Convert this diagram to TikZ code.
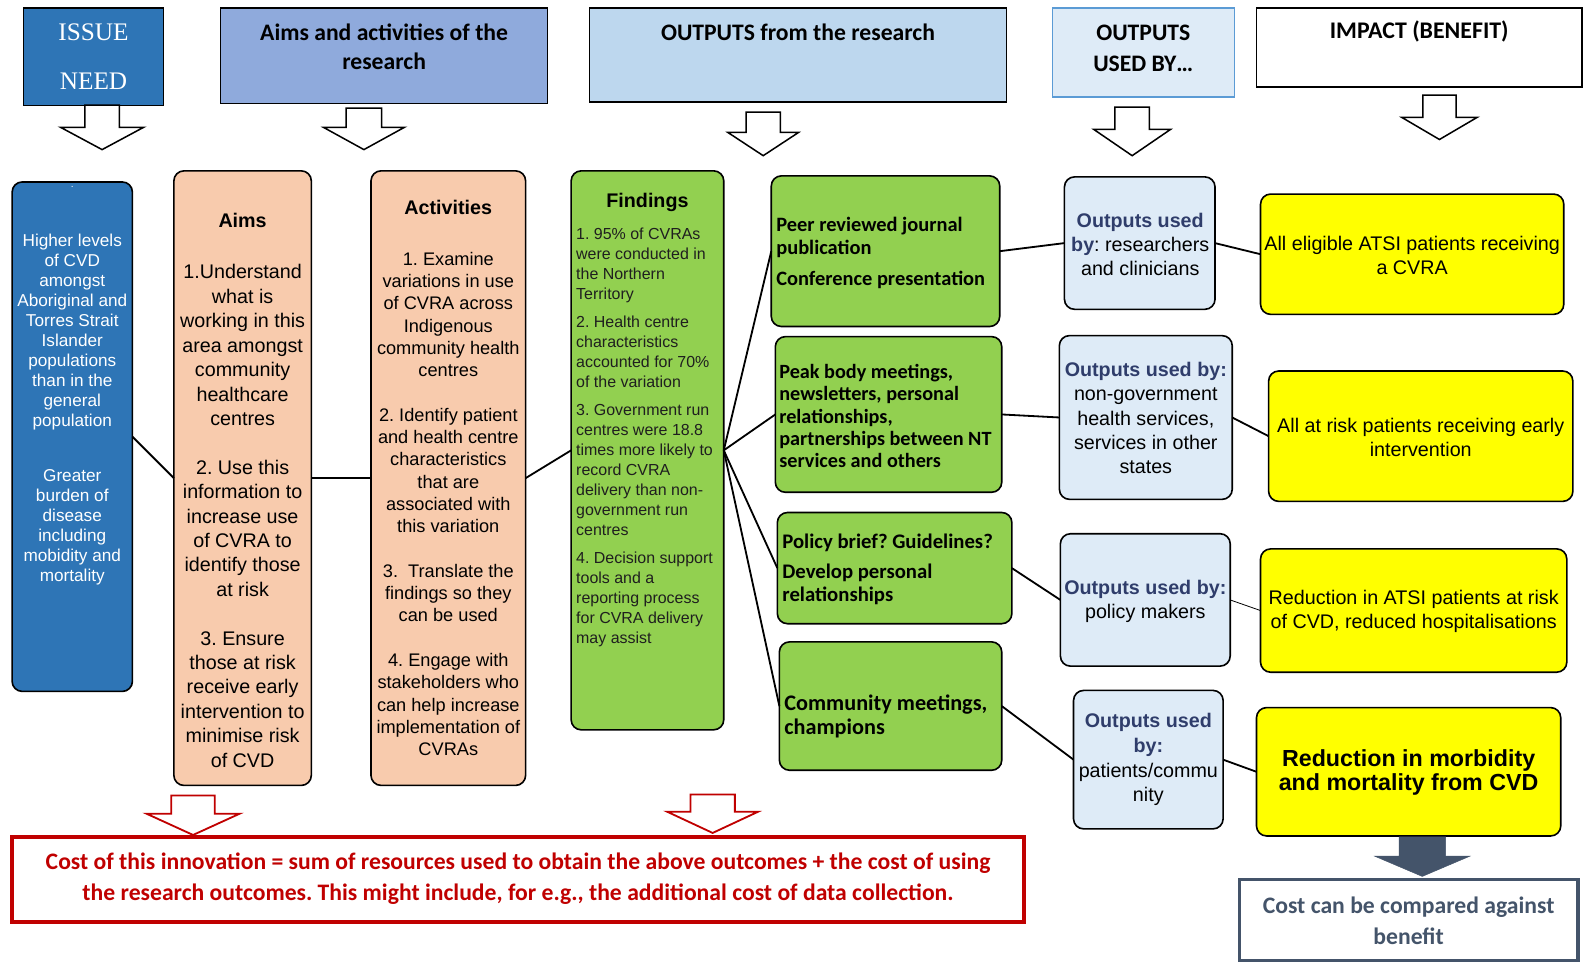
\documentclass[tikz,border=0pt]{standalone}
\usepackage{fontspec}
\setmainfont{Liberation Sans}
\newfontfamily\carl{Carlito}
\newfontfamily\tnr{Liberation Serif}
\frenchspacing
\definecolor{issueblue}{HTML}{2E75B6}
\definecolor{aimshdr}{HTML}{8FAADC}
\definecolor{outhdr}{HTML}{BDD7EE}
\definecolor{usedfill}{HTML}{DEEBF7}
\definecolor{usedborder}{HTML}{5B9BD5}
\definecolor{peach}{HTML}{F8CBAD}
\definecolor{grn}{HTML}{92D050}
\definecolor{yel}{HTML}{FFFF00}
\definecolor{slate}{HTML}{44546A}
\definecolor{dred}{HTML}{C00000}
\definecolor{navy}{HTML}{2F3D6B}
\newcommand\fs[2]{\fontsize{#1}{#2}\selectfont}
\newcommand\blockarr[7]{\draw[#7] (#1-#3,#2) -- (#1+#3,#2) -- (#1+#3,#4) -- (#1+#5,#4) -- (#1,#6) -- (#1-#5,#4) -- (#1-#3,#4) -- cycle;}
\newcommand\ub[1]{{\bfseries\color{navy}#1}}
\tikzset{
  every node/.style={inner sep=0pt, outer sep=0pt},
  rbox/.style={draw=black, line width=1.6pt, rounded corners=10pt},
  hdr/.style={draw=black, line width=1.2pt},
  conn/.style={draw=black, line width=1.8pt},
  hollow/.style={draw=black, fill=white, line width=1.5pt, line join=miter},
  redarr/.style={draw=dred, fill=white, line width=1.8pt, line join=miter},
  darkarr/.style={draw=slate, fill=slate, line width=0.5pt},
  txt/.style={align=center},
}
\begin{document}
\begin{tikzpicture}[x=1pt,y=-1pt]
\useasboundingbox (0,0) rectangle (1568,953);
\fill[white] (0,0) rectangle (1568,953);

% ---------- headers ----------
\node[hdr, fill=issueblue, minimum width=139pt, minimum height=96pt] (issueh) at (92.5,56) {};
\node[txt, text=white, font=\tnr\fs{25}{48}] (issueht) at (92.5,56) {ISSUE\\NEED};
\node[hdr, fill=aimshdr, minimum width=324pt, minimum height=94pt] (aimsh) at (380,55) {};
\node[txt, font=\carl\bfseries\fs{23.4}{29}] (aimsht) at (380,46.5) {Aims and activities of the\\research};
\node[hdr, fill=outhdr, minimum width=413pt, minimum height=93pt] (outh) at (789.5,54.5) {};
\node[txt, font=\carl\bfseries\fs{23.4}{29}] (outht) at (789.5,31.5) {OUTPUTS from the research};
\node[draw=usedborder, line width=1.2pt, fill=usedfill, minimum width=180pt, minimum height=88pt] (usedh) at (1131,52) {};
\node[txt, font=\carl\bfseries\fs{23.4}{31}] (usedht) at (1131,47.5) {OUTPUTS\\USED BY…};
\node[hdr, fill=white, minimum width=322pt, minimum height=78pt] (imph) at (1404,47) {};
\node[txt, font=\carl\bfseries\fs{23.6}{29}] (impht) at (1404,31.5) {IMPACT (BENEFIT)};

% header arrows
\blockarr{101}{104}{17}{126}{41}{148}{hollow}
\blockarr{360}{107}{17.5}{126}{40}{148}{hollow}
\blockarr{755}{111}{17}{131}{35}{154}{hollow}
\blockarr{1120}{106}{17}{128}{38}{154}{hollow}
\blockarr{1424}{94}{16.5}{116}{37.5}{138}{hollow}

% ---------- column 1: issue ----------
\node[rbox, fill=issueblue, minimum width=119pt, minimum height=504pt] (issue) at (71.5,432) {};
\node[text=white, font=\fs{10}{12}] (issuedot) at (71.5,185) {.};
\node[txt, text=white, font=\fs{17}{19.8}] (issuet) at (71.5,405) {Higher levels\\of CVD\\amongst\\Aboriginal and\\Torres Strait\\Islander\\populations\\than in the\\general\\population\\[34pt]Greater\\burden of\\disease\\including\\mobidity and\\mortality};

% ---------- aims ----------
\node[rbox, fill=peach, minimum width=136pt, minimum height=608pt] (aims) at (240,473) {};
\node[font=\bfseries\fs{19.5}{24}] (aimstitle) at (240,218) {Aims};
\node[txt, font=\fs{19.5}{24.15}] (aimst) at (240,510.5) {1.Understand\\what is\\working in this\\area amongst\\community\\healthcare\\centres\\[24.15pt]2. Use this\\information to\\increase use\\of CVRA to\\identify those\\at risk\\[24.15pt]3. Ensure\\those at risk\\receive early\\intervention to\\minimise risk\\of CVD};

% ---------- activities ----------
\node[rbox, fill=peach, minimum width=153pt, minimum height=608pt] (act) at (443.5,473) {};
\node[font=\bfseries\fs{19.5}{24}] (acttitle) at (443.5,205) {Activities};
\node[txt, font=\fs{18}{22.05}] (actt) at (443.5,498.5) {1. Examine\\variations in use\\of CVRA across\\Indigenous\\community health\\centres\\[22.05pt]2. Identify patient\\and health centre\\characteristics\\that are\\associated with\\this variation\\[22.05pt]3.~ Translate the\\findings so they\\can be used\\[22.05pt]4. Engage with\\stakeholders who\\can help increase\\implementation of\\CVRAs};

% ---------- findings ----------
\node[rbox, fill=grn, minimum width=151pt, minimum height=553pt] (find) at (640.5,445.5) {};
\node[font=\bfseries\fs{19.5}{24}] (findtitle) at (640.5,200) {Findings};
\node[align=left, anchor=west, text=black!88, font=\fs{15.8}{19.7}] (findt) at (570,432.5) {1. 95\% of CVRAs\\were conducted in\\the Northern\\Territory\\[8.3pt]2. Health centre\\characteristics\\accounted for 70\%\\of the variation\\[8.3pt]3. Government run\\centres were 18.8\\times more likely to\\record CVRA\\delivery than non-\\government run\\centres\\[8.3pt]4. Decision support\\tools and a\\reporting process\\for CVRA delivery\\may assist};

% ---------- output boxes ----------
\node[rbox, fill=grn, minimum width=226pt, minimum height=149pt] (oa) at (876,248.5) {};
\node[align=left, anchor=west, font=\carl\bfseries\fs{20.2}{22}] (oat) at (768,250.5) {Peer reviewed journal\\publication\\[9pt]Conference presentation};
\node[rbox, fill=grn, minimum width=224pt, minimum height=154pt] (ob) at (879,410) {};
\node[align=left, anchor=west, font=\carl\bfseries\fs{20}{22.2}] (obt) at (771,411.5) {Peak body meetings,\\newsletters, personal\\relationships,\\partnerships between NT\\services and others};
\node[rbox, fill=grn, minimum width=232pt, minimum height=110pt] (oc) at (885,562) {};
\node[align=left, anchor=west, font=\carl\bfseries\fs{20.5}{22}] (oct) at (774,563) {Policy brief? Guidelines?\\[8pt]Develop personal\\relationships};
\node[rbox, fill=grn, minimum width=220pt, minimum height=127pt] (od) at (881,698.5) {};
\node[align=left, anchor=west, font=\carl\bfseries\fs{22}{24}] (odt) at (776,709) {Community meetings,\\champions};

% ---------- used-by boxes ----------
\node[rbox, fill=usedfill, minimum width=149pt, minimum height=131pt] (ua) at (1127.5,240.5) {};
\node[txt, font=\fs{19.5}{24}] (uat) at (1128,242) {\ub{Outputs used}\\\ub{by}: researchers\\and clinicians};
\node[rbox, fill=usedfill, minimum width=171pt, minimum height=162pt] (ubx) at (1133.5,413) {};
\node[txt, font=\fs{19.5}{24.2}] (ubt) at (1133.5,413.5) {\ub{Outputs used by:}\\non-government\\health services,\\services in other\\states};
\node[rbox, fill=usedfill, minimum width=168pt, minimum height=131pt] (uc) at (1133,593.5) {};
\node[txt, font=\fs{19.5}{24}] (uct) at (1133,595) {\ub{Outputs used by:}\\policy makers};
\node[rbox, fill=usedfill, minimum width=148pt, minimum height=137pt] (ud) at (1136,751.5) {};
\node[txt, font=\fs{19.5}{24.3}] (udt) at (1136,751.5) {\ub{Outputs used}\\\ub{by:}\\patients/commu\\nity};

% ---------- impact boxes ----------
\node[rbox, fill=yel, minimum width=300pt, minimum height=119pt] (ya) at (1397,251.5) {};
\node[txt, font=\fs{19.5}{24}] (yat) at (1397,253) {All eligible ATSI patients receiving\\a CVRA};
\node[rbox, fill=yel, minimum width=301pt, minimum height=129pt] (yb) at (1405.5,431.5) {};
\node[txt, font=\fs{19.5}{24}] (ybt) at (1405.5,433) {All at risk patients receiving early\\intervention};
\node[rbox, fill=yel, minimum width=303pt, minimum height=122pt] (yc) at (1398.5,604) {};
\node[txt, font=\fs{19.5}{24}] (yct) at (1398.5,605) {Reduction in ATSI patients at risk\\of CVD, reduced hospitalisations};
\node[rbox, fill=yel, minimum width=301pt, minimum height=127pt] (yd) at (1393.5,763.5) {};
\node[txt, font=\bfseries\fs{23}{24}] (ydt) at (1393.5,764.5) {Reduction in morbidity\\and mortality from CVD};

% ---------- connectors ----------
\draw[conn] (issue.east) -- (aims.west);
\draw[conn] (aims.east) -- (act.west);
\draw[conn] (act.east) -- (find.west);
\draw[conn] (find.east) -- (oa.west);
\draw[conn] (find.east) -- (ob.west);
\draw[conn] (find.east) -- (oc.west);
\draw[conn] (find.east) -- (od.west);
\draw[conn] (oa.east) -- (ua.west);
\draw[conn] (ob.east) -- (ubx.west);
\draw[conn] (oc.east) -- (uc.west);
\draw[conn] (od.east) -- (ud.west);
\draw[conn] (ua.east) -- (ya.west);
\draw[conn] (ubx.east) -- (yb.west);
\draw[draw=black, line width=0.8pt] (uc.east) -- (yc.west);
\draw[conn] (ud.east) -- (yd.west);

% ---------- bottom ----------
\blockarr{191}{787}{21.5}{805}{46}{826}{redarr}
\blockarr{705}{786}{22}{803}{45}{824}{redarr}
\node[draw=dred, line width=3.5pt, fill=white, minimum width=1001pt, minimum height=84pt] (costbox) at (512.5,870) {};
\node[txt, text=dred, font=\carl\bfseries\fs{23.4}{31}] (costt) at (512.5,869.5) {Cost of this innovation = sum of resources used to obtain the above outcomes + the cost of using\\the research outcomes. This might include, for e.g., the additional cost of data collection.};

\blockarr{1407}{828}{23}{847}{47}{867}{darkarr}
\node[draw=slate, line width=3.5pt, fill=white, minimum width=335pt, minimum height=80pt] (cmp) at (1393.5,910) {};
\node[txt, text=slate, font=\carl\bfseries\fs{23.4}{30}] (cmpt) at (1393.5,911) {Cost can be compared against\\benefit};
\end{tikzpicture}
\end{document}
